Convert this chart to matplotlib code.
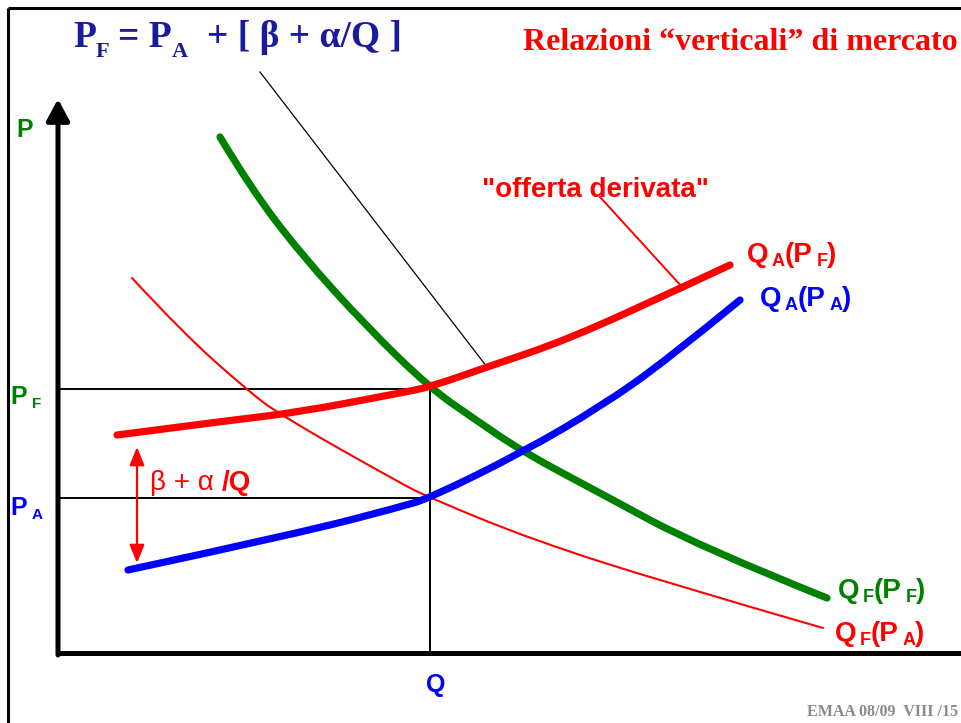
import matplotlib.pyplot as plt
from matplotlib.path import Path
from matplotlib.patches import PathPatch

# curve points (pixel coordinates, y downwards)
green_x = [220, 250, 300, 367, 430, 473, 523, 600, 700, 827]
green_y = [137, 187, 253, 327, 388, 418, 452, 493, 547, 598]

red_x = [117, 233, 300, 400, 430, 487, 567, 683, 730]
red_y = [435, 420, 412, 393, 387, 367, 340, 287, 265]

blue_x = [128, 300, 400, 430, 523, 600, 667, 740]
blue_y = [570, 533, 507, 498, 452, 407, 360, 300]

thin_x = [132, 183, 247, 280, 400, 430, 533, 667, 823]
thin_y = [278, 333, 390, 415, 483, 498, 540, 583, 628]

# equilibrium
q_eq = 430
p_f = 389
p_a = 498

NAVY = '#1a1a9c'
GREEN = '#008000'
RED = '#ff0000'
BLUE = '#0000ff'
SANS = 'Liberation Sans'
SERIF = 'Liberation Serif'

fig = plt.figure(figsize=(9.62, 7.23), dpi=100)
ax = fig.add_axes([0, 0, 1, 1])
ax.set_xlim(0, 962)
ax.set_ylim(723, 0)
ax.axis('off')
renderer = fig.canvas.get_renderer()


def smooth_curve(xs, ys, color, lw, z):
    """quadratic bezier pieces through the midpoints of the read points"""
    pts = list(zip(xs, ys))
    verts = [pts[0]]
    codes = [Path.MOVETO]
    for i in range(1, len(pts) - 1):
        mid = ((pts[i][0] + pts[i + 1][0]) / 2, (pts[i][1] + pts[i + 1][1]) / 2)
        if i == len(pts) - 2:
            mid = pts[-1]
        verts += [pts[i], mid]
        codes += [Path.CURVE3, Path.CURVE3]
    patch = PathPatch(Path(verts, codes), facecolor='none', edgecolor=color,
                      lw=lw, capstyle='round', zorder=z)
    ax.add_patch(patch)


def rich(x, y, parts, color, family, size, subsize, weight='bold', drop=4):
    """write text pieces one after another; parts = (text, is_sub, gap_before[, weight])"""
    cur = x
    for part in parts:
        s, sub, gap = part[:3]
        w = part[3] if len(part) > 3 else weight
        cur += gap
        t = ax.text(cur, y + (drop if sub else 0), s, color=color, family=family,
                    fontsize=subsize if sub else size, fontweight=w,
                    ha='left', va='baseline')
        cur += t.get_window_extent(renderer=renderer).width


# slide frame
ax.plot([8, 962], [8, 8], color='black', lw=2.2, solid_capstyle='butt')
ax.plot([8, 8], [8, 723], color='black', lw=2.2, solid_capstyle='butt')

# guide lines
ax.plot([58, q_eq], [p_f, p_f], color='black', lw=1.4)
ax.plot([58, q_eq], [p_a, p_a], color='black', lw=1.4)
ax.plot([q_eq, q_eq], [p_f, 653], color='black', lw=1.4)

# axes
ax.plot([56, 962], [653, 653], color='black', lw=3.6, solid_capstyle='butt')
ax.annotate('', xy=(58, 99), xytext=(58, 655),
            arrowprops=dict(arrowstyle='-|>,head_length=1.3,head_width=0.7',
                            lw=3.6, color='black', shrinkA=0, shrinkB=0))

# curves
smooth_curve(thin_x, thin_y, RED, 1.5, 3)
smooth_curve(green_x, green_y, GREEN, 5.2, 4)
smooth_curve(red_x, red_y, RED, 5.2, 5)
smooth_curve(blue_x, blue_y, BLUE, 5.2, 6)

# pointer lines
ax.plot([260, 487], [72, 367], color='black', lw=0.9)
ax.plot([600, 683], [197, 288], color=RED, lw=1.4)

# beta + alpha/Q double arrow
ax.annotate('', xy=(137, 447), xytext=(137, 563),
            arrowprops=dict(arrowstyle='<|-|>,head_length=1.1,head_width=0.45',
                            lw=1.6, color=RED, shrinkA=0, shrinkB=0))

# titles
rich(73, 47, [('P', 0, 0), ('F', 1, 0), ('= P', 0, 8), ('A', 1, 0),
              ('+ [ β + α/Q ]', 0, 20)], NAVY, SERIF, 27, 16, drop=10)
ax.text(523, 50, 'Relazioni \u201cverticali\u201d di mercato', color=RED,
        family=SERIF, fontsize=23, fontweight='bold', va='baseline')

# axis labels
ax.text(16, 137, 'P', color=GREEN, family=SANS, fontsize=18, fontweight='bold', va='baseline')
rich(10, 404, [('P', 0, 0), ('F', 1, 5)], GREEN, SANS, 18, 11)
rich(10, 515, [('P', 0, 0), ('A', 1, 5)], BLUE, SANS, 18, 11)
ax.text(436, 692, 'Q', color=BLUE, family=SANS, fontsize=18, fontweight='bold',
        ha='center', va='baseline')

# curve labels
rich(747, 262, [('Q', 0, 0), ('A', 1, 3), ('(P', 0, 0), ('F', 1, 4), (')', 0, 0)], RED, SANS, 20, 13)
rich(760, 306, [('Q', 0, 0), ('A', 1, 3), ('(P', 0, 0), ('A', 1, 4), (')', 0, 0)], BLUE, SANS, 20, 13)
rich(838, 598, [('Q', 0, 0), ('F', 1, 3), ('(P', 0, 0), ('F', 1, 4), (')', 0, 0)], GREEN, SANS, 20, 13)
rich(835, 641, [('Q', 0, 0), ('F', 1, 3), ('(P', 0, 0), ('A', 1, 4), (')', 0, 0)], RED, SANS, 20, 13)

rich(150, 490, [('β + α', 0, 0, 'normal'), ('/Q', 0, 8, 'bold')], RED, SANS, 20, 13)
ax.text(482, 197, '"offerta derivata"', color=RED, family=SANS, fontsize=20,
        fontweight='bold', va='baseline')

ax.text(807, 716, 'EMAA 08/09  VIII /15', color='#8a8a8a', family=SERIF,
        fontsize=11.5, fontweight='bold', va='baseline')

fig.savefig('out.png', dpi=100)
